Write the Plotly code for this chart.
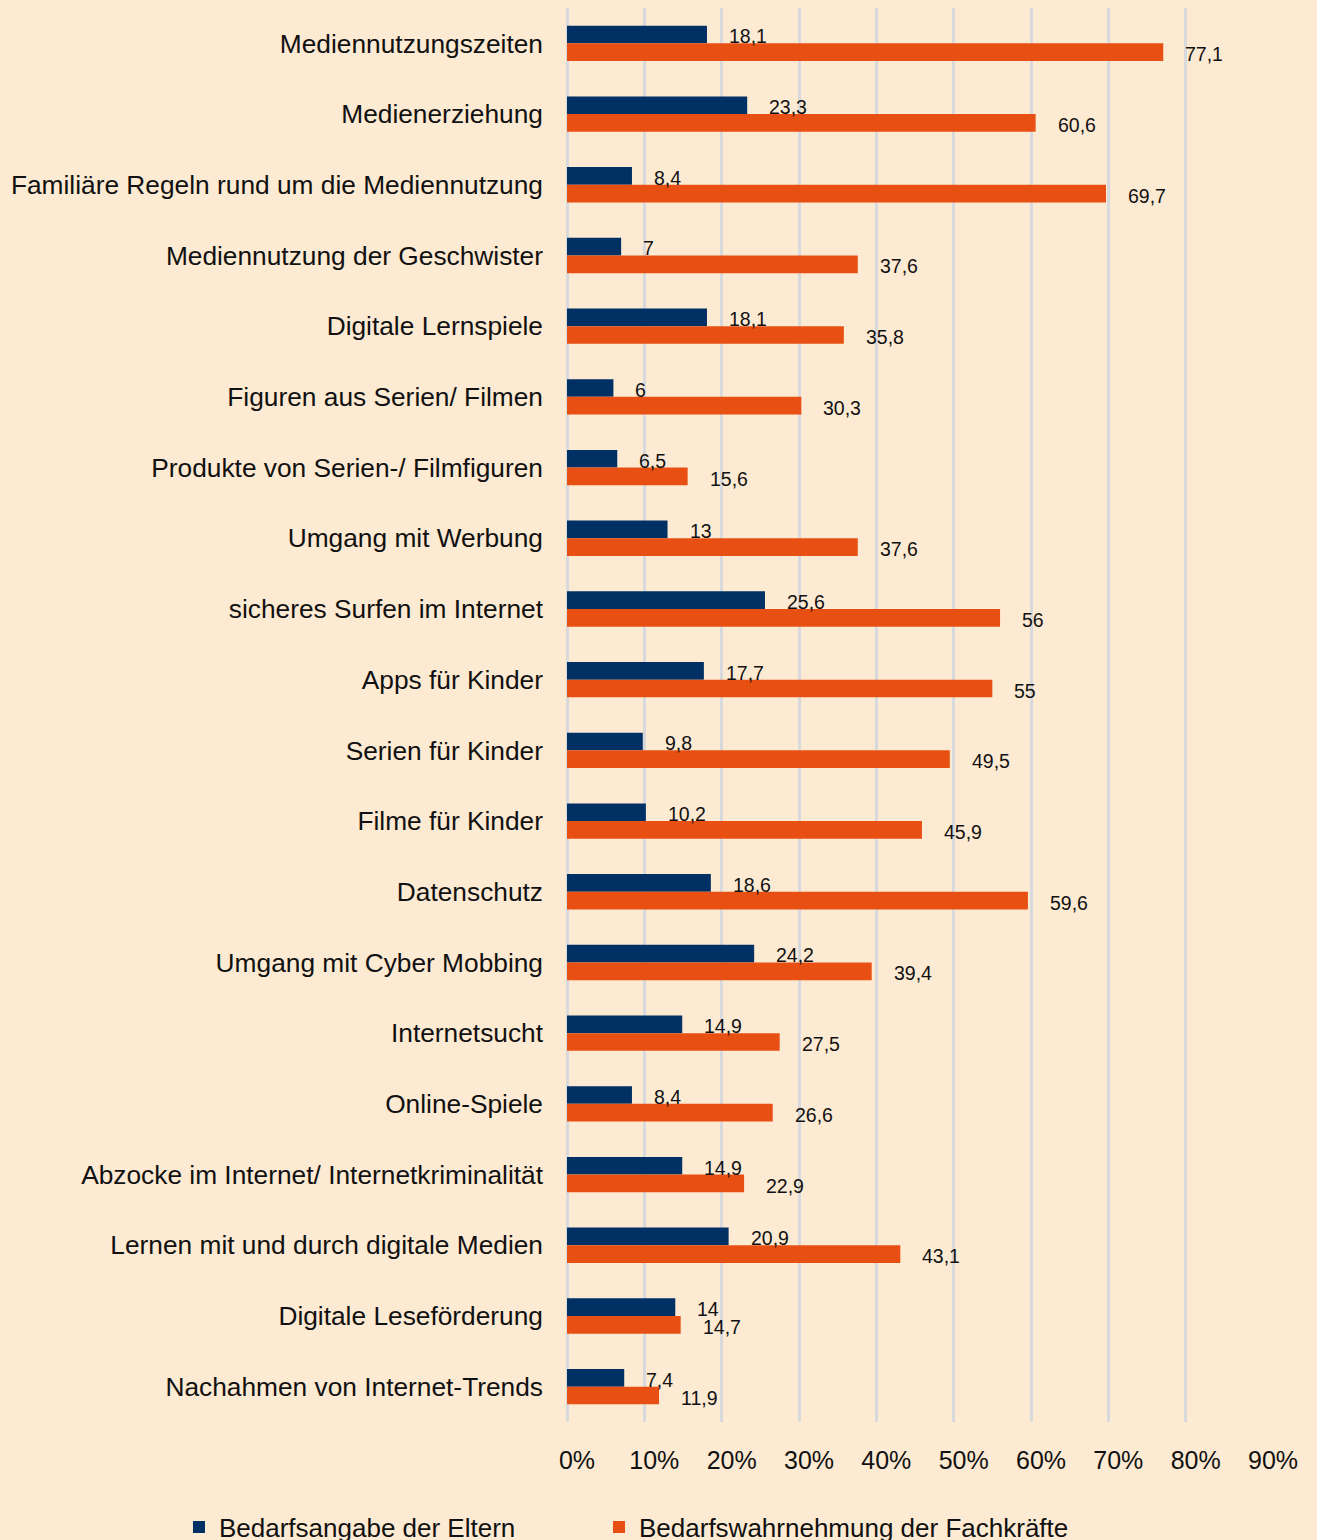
import plotly.graph_objects as go

# Themen (von oben nach unten)
categories = [
    "Mediennutzungszeiten",
    "Medienerziehung",
    "Familiäre Regeln rund um die Mediennutzung",
    "Mediennutzung der Geschwister",
    "Digitale Lernspiele",
    "Figuren aus Serien/ Filmen",
    "Produkte von Serien-/ Filmfiguren",
    "Umgang mit Werbung",
    "sicheres Surfen im Internet",
    "Apps für Kinder",
    "Serien für Kinder",
    "Filme für Kinder",
    "Datenschutz",
    "Umgang mit Cyber Mobbing",
    "Internetsucht",
    "Online-Spiele",
    "Abzocke im Internet/ Internetkriminalität",
    "Lernen mit und durch digitale Medien",
    "Digitale Leseförderung",
    "Nachahmen von Internet-Trends",
]

eltern = [18.1, 23.3, 8.4, 7, 18.1, 6, 6.5, 13, 25.6, 17.7,
          9.8, 10.2, 18.6, 24.2, 14.9, 8.4, 14.9, 20.9, 14, 7.4]
fachkraefte = [77.1, 60.6, 69.7, 37.6, 35.8, 30.3, 15.6, 37.6, 56, 55,
               49.5, 45.9, 59.6, 39.4, 27.5, 26.6, 22.9, 43.1, 14.7, 11.9]

series_names = ["Bedarfsangabe der Eltern", "Bedarfswahrnehmung der Fachkräfte"]
tick_values = [0, 10, 20, 30, 40, 50, 60, 70, 80, 90]
tick_labels = ["0%", "10%", "20%", "30%", "40%", "50%", "60%", "70%", "80%", "90%"]

BLUE = "#003064"
ORANGE = "#e84f12"
BG = "#fdead3"
GRID = "#d8d9dc"
TXT = "#111111"
FONT = "Liberation Sans, Arial, sans-serif"


def de_num(v):
    return f"{v:g}".replace(".", ",")


fig = go.Figure()
fig.add_trace(go.Bar(
    y=categories, x=eltern, orientation="h", name=series_names[0],
    marker=dict(color=BLUE, line=dict(width=0)), legend="legend",
))
fig.add_trace(go.Bar(
    y=categories, x=fachkraefte, orientation="h", name=series_names[1],
    marker=dict(color=ORANGE, line=dict(width=0)), legend="legend2",
))

# value labels just right of each bar
annotations = []
for cat, v_e, v_f in zip(categories, eltern, fachkraefte):
    for val, ysh in ((v_e, 7), (v_f, -11)):
        annotations.append(dict(
            x=val, y=cat, xref="x", yref="y", text=de_num(val),
            showarrow=False, xanchor="left", yanchor="middle",
            xshift=20, yshift=ysh,
            font=dict(family=FONT, size=19.5, color=TXT),
        ))

legend_style = dict(
    orientation="h", xanchor="left", y=-0.0743, yanchor="middle",
    font=dict(family=FONT, size=26, color=TXT),
    bgcolor="rgba(0,0,0,0)",
)

fig.update_layout(
    width=1317, height=1540,
    margin=dict(l=567, r=54, t=8, b=118, autoexpand=False),
    paper_bgcolor=BG, plot_bgcolor=BG,
    barmode="group", bargap=0.5, bargroupgap=0,
    font=dict(family=FONT, color=TXT),
    showlegend=True,
    legend=dict(x=-0.5575, **legend_style),
    legend2=dict(x=0.046, **legend_style),
    annotations=annotations,
)

fig.update_xaxes(
    range=[0, 90], tickvals=tick_values, ticktext=tick_labels,
    showgrid=True, gridcolor=GRID, gridwidth=3,
    zeroline=True, zerolinecolor=GRID, zerolinewidth=3,
    showline=False, ticks="",
    tickfont=dict(family=FONT, size=25, color=TXT),
    ticklabelshift=10, ticklabelstandoff=21,
    fixedrange=True,
)
fig.update_yaxes(
    autorange="reversed", showgrid=False, zeroline=False, showline=False,
    ticks="", ticklabelstandoff=23,
    tickfont=dict(family=FONT, size=26.3, color=TXT),
    fixedrange=True,
)

fig.write_html("out.html")
